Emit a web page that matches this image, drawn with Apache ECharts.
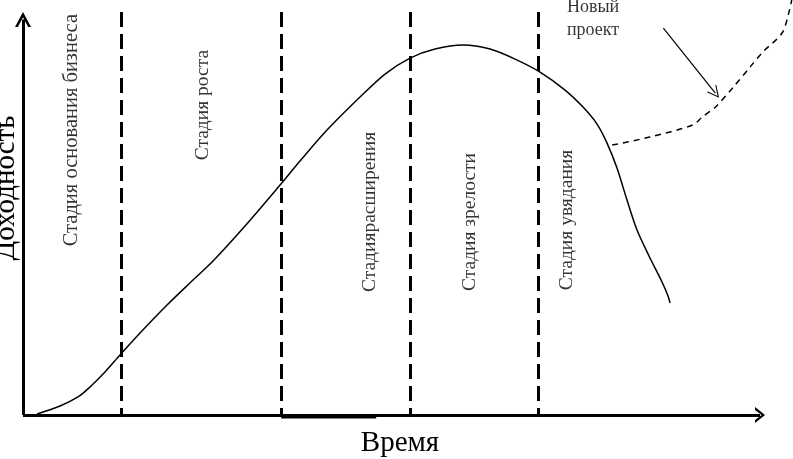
<!DOCTYPE html>
<html><head><meta charset="utf-8">
<script src="https://cdn.jsdelivr.net/npm/echarts@6/dist/echarts.min.js"></script>
<style>html,body{margin:0;padding:0;background:#fff}#c{width:793px;height:459px}</style>
</head><body><div id="c"></div>
<script>
// Life-cycle curve (time, profitability) in relative units (axes end at 100)
const lifeX = [1.89, 4.99, 7.41, 9.03, 11.05, 13.07, 15.77, 19.41, 22.91, 25.61, 29.92, 34.64, 37.33, 40.97, 45.42, 48.79, 52.16, 55.53, 59.30, 62.94, 66.31, 69.68, 73.05, 75.47, 77.36, 78.71, 80.05, 81.40, 82.75, 84.50, 86.12, 86.93, 87.20];
const lifeY = [0.25, 2.23, 4.47, 6.95, 10.67, 14.89, 20.35, 27.30, 33.50, 38.21, 46.90, 57.07, 63.03, 70.72, 78.91, 84.62, 88.59, 90.82, 91.81, 90.82, 88.34, 85.11, 80.65, 76.43, 72.21, 67.49, 61.29, 53.35, 45.91, 38.96, 33.00, 29.53, 27.79];
// New project curve
const newX = [79.4, 84.5, 90.3, 91.5, 93.3, 95.6, 98.0, 99.7, 102.3, 103.2, 103.6];
const newY = [67.0, 69.0, 72.0, 73.9, 76.4, 81.1, 86.4, 90.1, 94.8, 99.8, 103.0];
// Stage boundaries on time axis
const stageBounds = [13.2, 34.8, 52.2, 69.5];
// Stage labels
const stageNames = ['Стадия основания бизнеса', 'Стадия роста', 'Стадиярасширения', 'Стадия зрелости', 'Стадия увядания'];
const stageLabelX = [6.5, 24.3, 46.8, 60.2, 73.3];
const stageLabelY = [70.7, 76.9, 50.4, 47.9, 48.4];
// "Новый проект" note
const noteLines = ['Новый', 'проект'];
const noteX = [73.3, 73.3];
const noteY = [101.2, 95.5];
const noteArrowFrom = [86.3, 96.0];
const noteArrowTo = [93.3, 79.9];
// axes extents (arrow tips) and extra thick segment on time axis
const axisEndX = 100;
const axisEndY = 100;
const axisSegX = [34.8, 47.6];
const axisSegY = [-0.5, -0.5];

const FONT = '"Liberation Serif", "Times New Roman", serif';
const chevron = 'path://M5,0 L10,10 L8.2,10 L5,3.4 L1.8,10 L0,10 Z';

const chart = echarts.init(document.getElementById('c'), null, {renderer: 'canvas'});
chart.setOption({
  animation: false,
  backgroundColor: '#fff',
  grid: {left: 23, right: 0, top: 0, bottom: 44, outerBoundsMode: 'none', containLabel: false},
  xAxis: {
    type: 'value', min: 0, max: 103.77,
    name: 'Время', nameLocation: 'middle', nameGap: 14,
    nameTextStyle: {fontFamily: FONT, fontSize: 29, color: '#000', padding: [0, 16, 0, 0]},
    axisLine: {show: false}, axisTick: {show: false}, axisLabel: {show: false}, splitLine: {show: false}
  },
  yAxis: {
    type: 'value', min: 0, max: 103.0,
    name: 'Доходность', nameLocation: 'middle', nameGap: 2, nameRotate: 90,
    nameTextStyle: {fontFamily: FONT, fontSize: 29, color: '#000', padding: [0, 0, 0, 39]},
    axisLine: {show: false}, axisTick: {show: false}, axisLabel: {show: false}, splitLine: {show: false}
  },
  series: [
    {
      type: 'line', name: 'life', data: lifeX.map((x, i) => [x, lifeY[i]]),
      smooth: 0.3, symbol: 'none', clip: false,
      lineStyle: {color: '#000', width: 1.5},
      markLine: {
        silent: true, symbol: 'none', label: {show: false},
        lineStyle: {color: '#000', width: 3, type: [15, 7]},
        data: stageBounds.map(v => [{coord: [v, axisEndY]}, {coord: [v, 0]}])
      }
    },
    {
      type: 'line', name: 'new', data: newX.map((x, i) => [x, newY[i]]),
      smooth: 0.3, symbol: 'none', clip: false,
      lineStyle: {color: '#000', width: 1.5, type: [6, 5]}
    },
    {
      type: 'line', name: 'axes', data: axisSegX.map((x, i) => [x, axisSegY[i]]),
      symbol: 'none', clip: false, lineStyle: {color: '#000', width: 3},
      markLine: {
        silent: true, label: {show: false},
        lineStyle: {color: '#000', width: 3, type: 'solid'},
        data: [
          [{coord: [0, 0], symbol: 'none'}, {coord: [axisEndX - 0.67, 0], symbol: chevron, symbolSize: [16, 10]}],
          [{coord: [0, 0], symbol: 'none'}, {coord: [0, axisEndY - 1.86], symbol: chevron, symbolSize: [16, 15]}]
        ]
      }
    },
    {
      type: 'lines', coordinateSystem: 'cartesian2d', clip: false,
      symbol: ['none', 'path://M0,10 L5,0 L10,10 L9,10 L5,2 L1,10 Z'], symbolSize: 12,
      lineStyle: {color: '#000', width: 1.2, curveness: 0, opacity: 1},
      data: [{coords: [noteArrowFrom, noteArrowTo]}]
    },
    {
      type: 'scatter', clip: false, symbolSize: 0,
      data: stageNames.map((n, i) => ({value: [stageLabelX[i], stageLabelY[i]], name: n,
        label: i === 0 ? {fontSize: 20.5} : undefined})),
      label: {show: true, position: 'inside', rotate: 90, formatter: p => p.name,
        fontFamily: FONT, fontSize: 19.5, color: '#000', align: 'center', verticalAlign: 'middle'}
    },
    {
      type: 'scatter', clip: false, symbolSize: 0,
      data: noteLines.map((n, i) => ({value: [noteX[i], noteY[i]], name: n})),
      label: {show: true, position: 'inside', formatter: p => p.name,
        fontFamily: FONT, fontSize: 18, color: '#000', align: 'left', verticalAlign: 'middle'}
    }
  ]
});
</script></body></html>
